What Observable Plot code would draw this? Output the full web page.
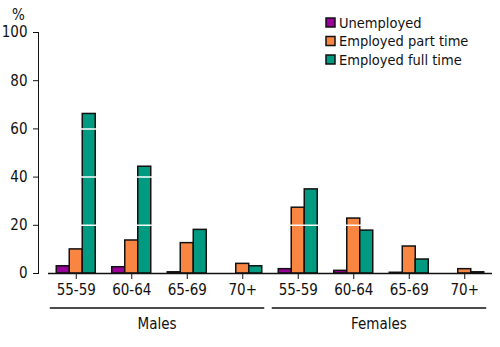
<!DOCTYPE html>
<html>
<head>
<meta charset="utf-8">
<script src="https://cdn.jsdelivr.net/npm/d3@7"></script>
<script src="https://cdn.jsdelivr.net/npm/@observablehq/plot@0.6"></script>
<style>
  html, body { margin: 0; padding: 0; background: #fff; }
  #chart { width: 500px; height: 347px; overflow: hidden; }
  svg { font-family: "DejaVu Sans Condensed", "DejaVu Sans", sans-serif; font-stretch: condensed; }
</style>
</head>
<body>
<div id="chart"></div>
<script>
const groups = ["Males", "Females"];
const ages = ["55-59", "60-64", "65-69", "70+"];
const series = ["Unemployed", "Employed part time", "Employed full time"];
const colors = ["#990099", "#f98542", "#009a80"];
// values in group order: Males 55-59..70+, Females 55-59..70+
const unemployed = [3.0, 2.6, 0.5, 0, 1.8, 1.1, 0.3, 0];
const partTime   = [10.0, 13.7, 12.6, 4.0, 27.3, 22.8, 11.2, 1.8];
const fullTime   = [66.2, 44.3, 18.1, 3.0, 34.9, 17.8, 5.8, 0.5];
const yTicks = [0, 20, 40, 60, 80, 100];
const gridValues = [20, 40, 60, 80];

const keys = groups.flatMap(g => ages.map(a => g + "|" + a));
const seriesValues = [unemployed, partTime, fullTime];
const tables = seriesValues.map((vals, j) => keys.map((k, i) => ({key: k, series: series[j], value: vals[i]})));

const W = 500, H = 347;
const BAR = 13;           // bar width in px
const STEP = 55.5;        // group step for inset computation
const inset = (STEP - BAR) / 2;
const offsets = [-BAR, 0, BAR];

const plot = Plot.plot({
  width: W,
  height: H,
  marginTop: 32,
  marginBottom: 74,
  marginLeft: 38,
  marginRight: 0,
  style: {fontSize: "15px", color: "#111", background: "white", overflow: "visible"},
  x: {domain: keys, padding: 0, round: false, insetLeft: 10, insetRight: 8, label: null,
      tickSize: 6, tickPadding: 5, tickFormat: d => d.split("|")[1]},
  y: {domain: [0, 100], ticks: yTicks, tickSize: 5, tickPadding: 6, line: true, label: null},
  color: {domain: series, range: colors},
  marks: [
    ...tables.map((t, j) => Plot.barY(t, {
      x: "key", y: "value", fill: "series", stroke: "#111", strokeWidth: 1.5,
      insetLeft: inset, insetRight: inset, dx: offsets[j]
    })),
    Plot.ruleY(gridValues, {stroke: "white", strokeWidth: 1.5, insetLeft: 10, insetRight: 8}),
    Plot.ruleY([0], {stroke: "#111", strokeWidth: 1.5, insetLeft: 10, insetRight: 8})
  ]
});
document.getElementById("chart").appendChild(plot);

// Extras: % label, group underlines and labels, legend
const svg = d3.select(plot);
const xs = plot.scale("x");
const band = d3.scaleBand(xs.domain, xs.range)
  .paddingInner(xs.paddingInner ?? 0).paddingOuter(xs.paddingOuter ?? 0)
  .align(xs.align ?? 0.5).round(!!xs.round);
const ctr = k => band(k) + band.bandwidth() / 2;

svg.append("text").attr("x", 12).attr("y", 20).attr("text-anchor", "start")
  .attr("font-size", 15).attr("fill", "#111").text("%");

groups.forEach(g => {
  const x0 = ctr(g + "|" + ages[0]) - 26;
  const x1 = ctr(g + "|" + ages[ages.length - 1]) + 22;
  svg.append("line").attr("x1", x0).attr("x2", x1).attr("y1", 308).attr("y2", 308)
    .attr("stroke", "#111").attr("stroke-width", 1.5);
  svg.append("text").attr("x", (x0 + x1) / 2).attr("y", 329)
    .attr("text-anchor", "middle").attr("font-size", 15).attr("fill", "#111").text(g);
});

const leg = svg.append("g").attr("transform", "translate(326,18)");
series.forEach((s, i) => {
  const gy = i * 18.5;
  leg.append("rect").attr("x", 0).attr("y", gy).attr("width", 9).attr("height", 9)
    .attr("fill", colors[i]).attr("stroke", "#111").attr("stroke-width", 1.5);
  leg.append("text").attr("x", 13).attr("y", gy + 4.5).attr("dy", "0.36em")
    .attr("text-anchor", "start")
    .attr("font-size", 14.5).attr("fill", "#111").text(s);
});
</script>
</body>
</html>
